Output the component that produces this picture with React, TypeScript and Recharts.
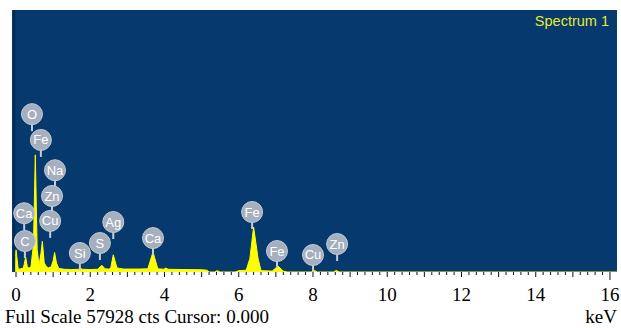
import React from "react"
import { Area, ComposedChart, CartesianGrid, ReferenceDot, ReferenceLine, XAxis, YAxis } from "recharts"

// spectrum (keV, counts)
const energies = [
  -0.06, 0.0, 0.06, 0.12, 0.2, 0.26, 0.31, 0.4, 0.47, 0.52, 0.57, 0.62, 0.67, 0.71, 0.76, 0.82, 0.88,
  0.95, 1.0, 1.04, 1.09, 1.15, 1.3, 1.5, 1.7, 1.74, 1.79, 2.0, 2.2, 2.31, 2.4, 2.5, 2.55, 2.62, 2.72,
  2.9, 3.3, 3.55, 3.69, 3.82, 4.0, 4.02, 4.1, 4.5, 5.0, 5.15, 5.2, 5.35, 5.42, 5.5, 5.9, 6.0, 6.2, 6.3,
  6.4, 6.52, 6.6, 6.9, 7.06, 7.2, 7.3, 7.95, 8.04, 8.12, 8.55, 8.63, 8.71, 9.0, 16.2,
]
const counts = [
  0, 4900, 600, 700, 900, 3300, 900, 1000, 6000, 25900, 5000, 1500, 4000, 6800, 2000, 1200, 900,
  1200, 2500, 4300, 2000, 800, 600, 550, 600, 800, 600, 550, 600, 1500, 700, 650, 800, 3800, 900,
  650, 650, 700, 4400, 700, 600, 900, 600, 550, 500, 400, 0, 0, 300, 0, 0, 300, 400, 3000,
  9950, 3000, 300, 200, 1300, 200, 0, 0, 350, 0, 0, 350, 0, 0, 0,
]

// peak labels: element, keV, counts
const labelNames = ["O", "Fe", "Na", "Zn", "Ca", "Cu", "C", "Si", "S", "Ag", "Ca", "Fe", "Fe", "Cu", "Zn"]
const labelEnergies = [0.43, 0.67, 1.05, 0.97, 0.22, 0.92, 0.24, 1.72, 2.26, 2.62, 3.69, 6.36, 7.03, 8.0, 8.65]
const labelCounts = [34900, 29200, 22500, 16800, 13000, 11300, 6850, 4200, 6400, 11050, 7500, 13260, 4640, 3760, 6190]

const majorTicks = [0, 2, 4, 6, 8, 10, 12, 14, 16]
const fullScale = 57928

const data = energies.map((e, i) => ({ e, c: counts[i] }))
const minorTicks: number[] = []
for (let i = 0; i <= 80; i++) minorTicks.push(Math.round(i * 2) / 10)

const BG = "#06396d"
const YEL = "#ffff00"

function Tick(props: any) {
  const { x, y, payload } = props
  const v = payload.value
  const isInt = Math.abs(v - Math.round(v)) < 1e-6
  const len = v === 16 ? 8 : isInt ? 5 : 3
  return (
    <g>
      <line x1={x} y1={y} x2={x} y2={y + len} stroke="#111" strokeWidth={1} />
      {majorTicks.includes(v) && (
        <text x={x} y={y + 29} textAnchor="middle" fill="#000" fontSize={19} fontFamily="Liberation Serif">
          {v}
        </text>
      )}
    </g>
  )
}

function Badge(name: string) {
  return (props: any) => {
    const { cx, cy } = props
    return (
      <g>
        <line x1={cx} y1={cy + 9} x2={cx} y2={cy + 17} stroke="#c4ccd6" strokeWidth={2} />
        <circle cx={cx} cy={cy} r={10.5} fill="#a6afbe" stroke="#c4cbd5" strokeWidth={1} />
        <text x={cx} y={cy + 4.5} textAnchor="middle" fill="#ffffff" fontSize={13} fontFamily="Liberation Sans">
          {name}
        </text>
      </g>
    )
  }
}

export default function App() {
  return (
    <div style={{ position: "absolute", left: 0, top: 0, width: 621, height: 328, background: "#fff" }}>
      <ComposedChart width={621} height={328} data={data} margin={{ top: 10, right: 4, bottom: 26, left: 12 }}>
        <CartesianGrid fill={BG} horizontal={false} vertical={false} stroke="none" />
        <XAxis
          dataKey="e"
          type="number"
          domain={[-0.108, 16.189]}
          allowDataOverflow
          ticks={minorTicks}
          interval={0}
          tick={<Tick />}
          tickLine={false}
          axisLine={false}
          tickSize={0}
          tickMargin={0}
          height={30}
        />
        <YAxis hide type="number" domain={[0, fullScale]} allowDataOverflow />
        <ReferenceLine x={-0.05} stroke="#032a55" strokeWidth={2} />
        <Area
          dataKey="c"
          type="linear"
          stroke={YEL}
          strokeWidth={1}
          fill={YEL}
          fillOpacity={1}
          isAnimationActive={false}
        />
        {labelNames.map((n, i) => (
          <ReferenceDot
            key={i}
            x={labelEnergies[i]}
            y={labelCounts[i]}
            ifOverflow="visible"
            shape={Badge(n)}
          />
        ))}
      </ComposedChart>
      <div
        style={{
          position: "absolute",
          right: 12,
          top: 13,
          color: "#e8e830",
          fontFamily: "Liberation Sans",
          fontSize: 14.5,
        }}
      >
        Spectrum 1
      </div>
      <div
        style={{
          position: "absolute",
          left: 5,
          top: 306,
          fontFamily: "Liberation Serif",
          fontSize: 19,
          lineHeight: "21px",
          color: "#000",
          whiteSpace: "nowrap",
        }}
      >
        Full Scale 57928 cts Cursor: 0.000
      </div>
      <div
        style={{
          position: "absolute",
          right: 4,
          top: 306,
          fontFamily: "Liberation Serif",
          fontSize: 19,
          lineHeight: "21px",
          color: "#000",
        }}
      >
        keV
      </div>
    </div>
  )
}
